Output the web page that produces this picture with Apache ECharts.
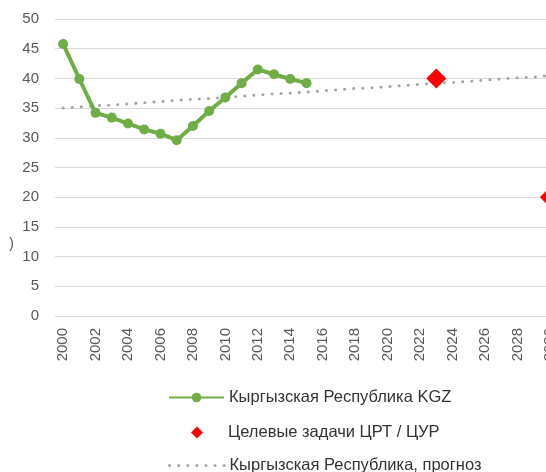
<!DOCTYPE html>
<html>
<head>
<meta charset="utf-8">
<script src="https://cdn.jsdelivr.net/npm/echarts@6/dist/echarts.min.js"></script>
<style>
  html, body { margin: 0; padding: 0; background: #fff; }
  #chart { width: 546px; height: 472px; }
</style>
</head>
<body>
<div id="chart"></div>
<script>
const years = ['2000','2001','2002','2003','2004','2005','2006','2007','2008','2009',
  '2010','2011','2012','2013','2014','2015','2016','2017','2018','2019',
  '2020','2021','2022','2023','2024','2025','2026','2027','2028','2029','2030'];

// Кыргызская Республика KGZ, 2000-2015
const kgz = [45.8, 39.9, 34.2, 33.4, 32.4, 31.4, 30.7, 29.6, 32.0, 34.5,
  36.8, 39.2, 41.5, 40.7, 39.9, 39.2];

// прогноз
const forecast = [35.0, 35.2, 35.4, 35.5, 35.7, 35.9, 36.1, 36.3, 36.5, 36.6,
  36.8, 37.0, 37.2, 37.4, 37.5, 37.7, 37.9, 38.1, 38.3, 38.4,
  38.6, 38.8, 39.0, 39.2, 39.3, 39.5, 39.7, 39.9, 40.1, 40.2, 40.5];

// Целевые задачи ЦРТ / ЦУР
const targetYears = ['2023', '2030'];
const targetValues = [40, 20];

const names = ['Кыргызская Республика KGZ', 'Целевые задачи ЦРТ / ЦУР', 'Кыргызская Республика, прогноз'];

const chart = echarts.init(document.getElementById('chart'));
const legendText = { color: '#333', fontSize: 16.5, fontFamily: 'Liberation Sans' };

chart.setOption({
  animation: false,
  grid: { left: 55, top: 19, width: 503, height: 297, outerBoundsMode: 'none' },
  graphic: [{
    type: 'text', left: 9, top: 236,
    style: { text: ')', fill: '#595959', font: '15px Liberation Sans' }
  }],
  legend: [
    { data: [names[0]], left: 163, top: 384, itemWidth: 55, itemHeight: 12, textStyle: legendText },
    { data: [names[1]], left: 186, top: 419, itemWidth: 12, itemHeight: 12, textStyle: Object.assign({ padding: [0, 0, 0, 20] }, legendText) },
    { data: [names[2]], left: 163, top: 452, itemWidth: 55, itemHeight: 12, textStyle: legendText,
      itemStyle: { color: 'rgba(0,0,0,0)', borderWidth: 0 },
      lineStyle: { width: 3, type: [0.1, 9], cap: 'round', color: '#a6a6a6' } }
  ],
  xAxis: {
    type: 'category',
    data: years,
    boundaryGap: true,
    axisLine: { show: false },
    axisTick: { show: false },
    axisLabel: {
      interval: 1, rotate: 90, margin: 12,
      color: '#595959', fontSize: 15, fontFamily: 'Liberation Sans'
    }
  },
  yAxis: {
    type: 'value',
    min: 0, max: 50, interval: 5,
    axisLabel: { margin: 16, color: '#595959', fontSize: 15, fontFamily: 'Liberation Sans' },
    splitLine: { lineStyle: { color: '#d9d9d9', width: 1 } }
  },
  series: [
    {
      name: names[2],
      type: 'line',
      data: forecast,
      symbol: 'none',
      lineStyle: { color: '#a6a6a6', width: 3, type: [0.1, 9], cap: 'round' },
      itemStyle: { color: '#a6a6a6' },
      z: 1
    },
    {
      name: names[0],
      type: 'line',
      data: kgz,
      symbol: 'circle',
      symbolSize: 10,
      lineStyle: { color: '#70ad47', width: 4 },
      itemStyle: { color: '#70ad47' },
      z: 3
    },
    {
      name: names[1],
      type: 'scatter',
      data: targetYears.map((y, i) => [y, targetValues[i]]),
      symbol: 'diamond',
      symbolSize: 20,
      itemStyle: { color: '#ff0000', opacity: 1 },
      z: 4
    }
  ]
});
</script>
</body>
</html>
